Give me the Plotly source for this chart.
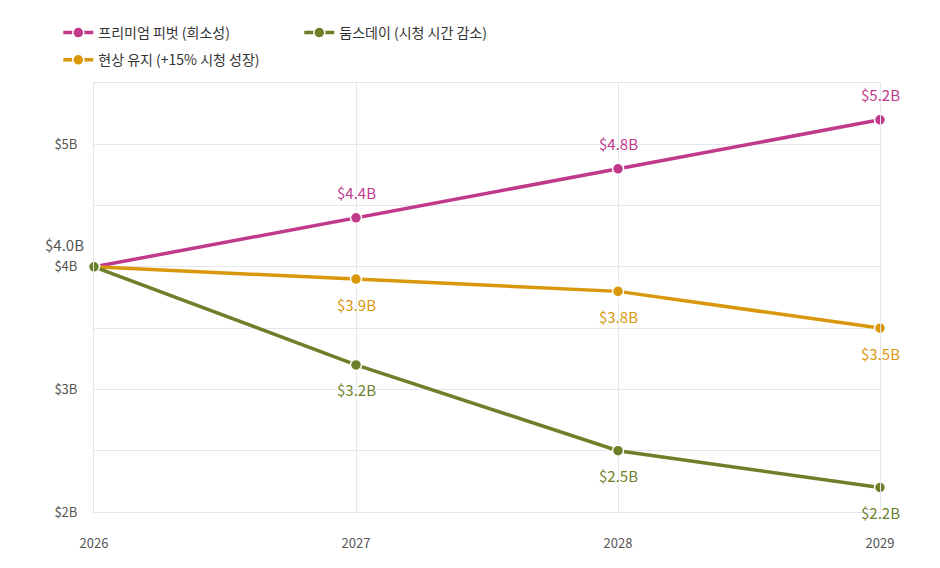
import plotly.graph_objects as go

years = [2026, 2027, 2028, 2029]
premium = [4.0, 4.4, 4.8, 5.2]
doomsday = [4.0, 3.2, 2.5, 2.2]
status_quo = [4.0, 3.9, 3.8, 3.5]

y_ticks = [2, 3, 4, 5]
y_tick_text = ["$2B", "$3B", "$4B", "$5B"]

names = ["프리미엄 피벗 (희소성)", "둠스데이 (시청 시간 감소)", "현상 유지 (+15% 시청 성장)"]
colors = ["#C0398A", "#6E7F2A", "#D9970B"]
grey = "#555555"
grid = "#E3E7EF"

fig = go.Figure()

# draw order: premium, status quo, doomsday (green sits on top at the start)
order = [(premium, 0, "legend", 1, 25), (status_quo, 2, "legend2", 3, -25), (doomsday, 1, "legend", 2, -25)]
for vals, ci, leg, rank, shift in order:
    fig.add_trace(go.Scatter(
        x=years, y=vals, name=names[ci], mode="lines+markers",
        line=dict(color=colors[ci], width=3.5),
        marker=dict(size=11, color=colors[ci], line=dict(color="white", width=1.5)),
        legend=leg, legendrank=rank, cliponaxis=False,
    ))
    for x, v in zip(years[1:], vals[1:]):
        fig.add_annotation(x=x, y=v, text=f"${v:.1f}B", showarrow=False,
                           yshift=shift, font=dict(size=15, color=colors[ci]))

fig.add_annotation(x=years[0], y=premium[0], text=f"${premium[0]:.1f}B", showarrow=False,
                   xanchor="right", xshift=-8, yshift=22, font=dict(size=15, color=grey))

fig.update_layout(
    width=940, height=568,
    margin=dict(l=86, r=68, t=75, b=64, autoexpand=False),
    paper_bgcolor="white", plot_bgcolor="white",
    font=dict(family="Noto Sans CJK KR", size=13, color=grey),
    legend=dict(orientation="h", xref="container", yref="container", x=0.0535, y=0.956,
                xanchor="left", yanchor="middle", entrywidth=196,
                font=dict(size=14, color="#333333")),
    legend2=dict(orientation="h", xref="container", yref="container", x=0.0535, y=0.908,
                 xanchor="left", yanchor="middle",
                 font=dict(size=14, color="#333333")),
    xaxis=dict(range=[2026, 2029], tickvals=years, showgrid=True, gridcolor=grid,
               zeroline=False, showline=True, mirror=True, linecolor=grid, ticks="",
               ticklabelstandoff=19, tickfont=dict(size=13, color=grey)),
    yaxis=dict(range=[2, 5.5], tickvals=y_ticks, ticktext=y_tick_text,
               showgrid=True, gridcolor=grid, zeroline=False, showline=True, mirror=True,
               linecolor=grid, ticks="", ticklabelstandoff=13,
               minor=dict(dtick=0.5, showgrid=True, gridcolor=grid),
               tickfont=dict(size=13, color=grey)),
)

fig.write_html("out.html")
